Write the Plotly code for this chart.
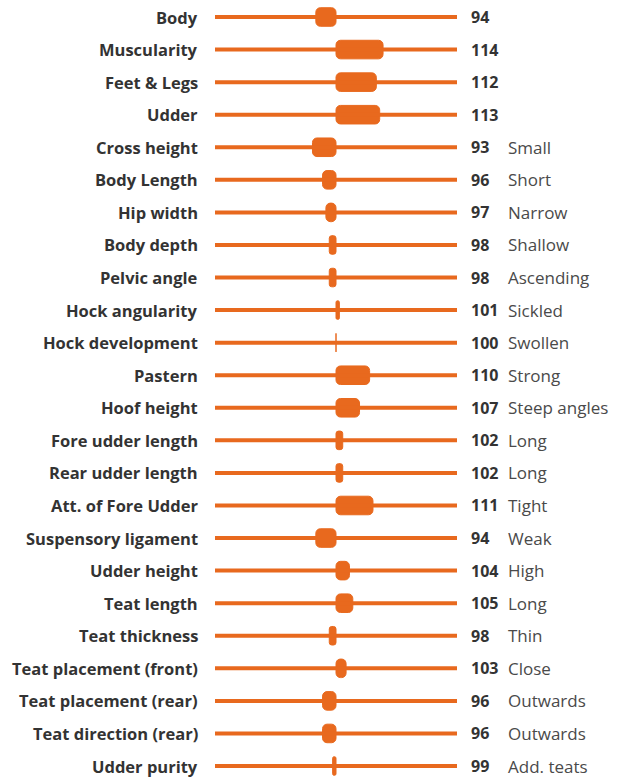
import plotly.graph_objects as go

traits = ["Body", "Muscularity", "Feet & Legs", "Udder", "Cross height", "Body Length",
          "Hip width", "Body depth", "Pelvic angle", "Hock angularity", "Hock development",
          "Pastern", "Hoof height", "Fore udder length", "Rear udder length",
          "Att. of Fore Udder", "Suspensory ligament", "Udder height", "Teat length",
          "Teat thickness", "Teat placement (front)", "Teat placement (rear)",
          "Teat direction (rear)", "Udder purity"]
values = [94, 114, 112, 113, 93, 96, 97, 98, 98, 101, 100, 110, 107, 102, 102, 111,
          94, 104, 105, 98, 103, 96, 96, 99]
descriptions = ["", "", "", "", "Small", "Short", "Narrow", "Shallow", "Ascending",
                "Sickled", "Swollen", "Strong", "Steep angles", "Long", "Long", "Tight",
                "Weak", "High", "Long", "Thin", "Close", "Outwards", "Outwards", "Add. teats"]
base_value = 100
scale_min, scale_max = 64, 136

ORANGE = "#E8691E"
DARK = "#333333"
GREY = "#4a4a4a"

n = len(traits)
fig = go.Figure()

# background lines
lx, ly = [], []
for t in traits:
    lx += [scale_min, scale_max, None]
    ly += [t, t, None]
fig.add_trace(go.Scatter(x=lx, y=ly, mode="lines", line=dict(color=ORANGE, width=4),
                         hoverinfo="skip", showlegend=False))

fig.add_trace(go.Bar(
    y=traits, x=[v - base_value for v in values], base=base_value, orientation="h",
    width=0.57, marker=dict(color=ORANGE, cornerradius=5,
                            line=dict(color=ORANGE, width=1)),
    hoverinfo="skip", showlegend=False))

for t, v, d in zip(traits, values, descriptions):
    fig.add_annotation(x=scale_min, y=t, xref="x", yref="y", text=f"<b>{t}</b>",
                       showarrow=False, xanchor="right", xshift=-15,
                       font=dict(family="Open Sans", size=16.5, color=DARK))
    fig.add_annotation(x=scale_max, y=t, xref="x", yref="y", text=f"<b>{v}</b>",
                       showarrow=False, xanchor="left", xshift=12,
                       font=dict(family="Open Sans", size=16, color=DARK))
    if d:
        fig.add_annotation(x=scale_max, y=t, xref="x", yref="y", text=d,
                           showarrow=False, xanchor="left", xshift=49,
                           font=dict(family="Open Sans", size=17, color=GREY))

fig.update_layout(
    width=622, height=778, margin=dict(l=215, r=165, t=0, b=0),
    paper_bgcolor="white", plot_bgcolor="white", bargap=0, hovermode=False,
    xaxis=dict(range=[scale_min, scale_max], visible=False, fixedrange=True),
    yaxis=dict(type="category", categoryorder="array", categoryarray=traits,
               range=[n - 1 + 0.368, -0.522], visible=False, fixedrange=True),
)
fig.write_html("out.html", config={"displayModeBar": False, "staticPlot": True},
               post_script="document.body.style.margin='0';")
